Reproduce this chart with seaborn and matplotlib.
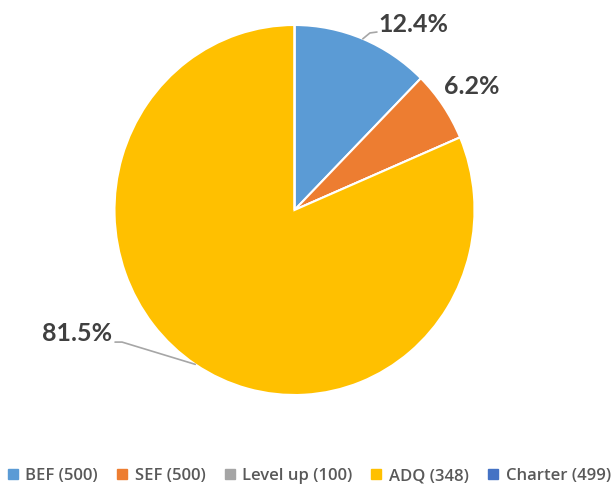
import matplotlib
matplotlib.use("Agg")
import matplotlib.pyplot as plt
import seaborn as sns
import numpy as np

categories = ["BEF (500)", "SEF (500)", "Level up (100)", "ADQ (348)", "Charter (499)"]
values = [12.4, 6.2, 0.0, 81.5, 0.0]
colors = ["#5B9BD5", "#ED7D31", "#A5A5A5", "#FFC000", "#4472C4"]
label_texts = ["12.4%", "6.2%", "", "81.5%", ""]

sns.set_theme(style="white")
plt.rcParams['font.family'] = ['Lato', 'DejaVu Sans']

W, H = 616, 486
fig = plt.figure(figsize=(W / 100, H / 100), dpi=100)
cx, cy, rx, ry = 294.5, 210, 180, 185
ax = fig.add_axes([(cx - rx) / W, (H - cy - ry) / H, 2 * rx / W, 2 * ry / H])

wedges, _ = ax.pie(values, colors=colors, startangle=90, counterclock=False,
                   wedgeprops=dict(edgecolor="white", linewidth=1.5))
ax.set_xlim(-1, 1)
ax.set_ylim(-1, 1)
ax.set_aspect("auto")
ax.axis("off")

# label layout in pie-radius units: text center, leader elbow, leader end
label_pos = {
    0: ((0.661, 1.0), (0.419, 0.957), (0.458, 0.962)),
    1: ((0.986, 0.670), None, None),
    3: ((-1.208, -0.668), (-0.958, -0.714), (-0.997, -0.714)),
}
for i, w in enumerate(wedges):
    if values[i] <= 0:
        continue
    (lx, ly), elbow, end = label_pos[i]
    ax.text(lx, ly, label_texts[i], ha="center", va="center", fontsize=18,
            fontweight="bold", color="#404040", clip_on=False)
    if elbow is not None:
        th = np.deg2rad((w.theta1 + w.theta2) / 2)
        ex, ey = np.cos(th), np.sin(th)
        ax.plot([ex, elbow[0], end[0]], [ey, elbow[1], end[1]],
                color="#A6A6A6", lw=1.2, clip_on=False)

handles = [plt.Line2D([], [], marker="s", linestyle="", markersize=7,
                      markerfacecolor=c, markeredgecolor=c) for c in colors]
leg = fig.legend(handles, categories, loc="center", bbox_to_anchor=(0.5, 1 - 476 / H),
                 ncol=5, frameon=False, handletextpad=0.3,
                 columnspacing=1.0, handlelength=0.9,
                 prop=dict(family=["Open Sans", "DejaVu Sans"], size=12, weight="semibold"))
for t in leg.get_texts():
    t.set_color("#595959")

fig.savefig("out.png", dpi=100)
